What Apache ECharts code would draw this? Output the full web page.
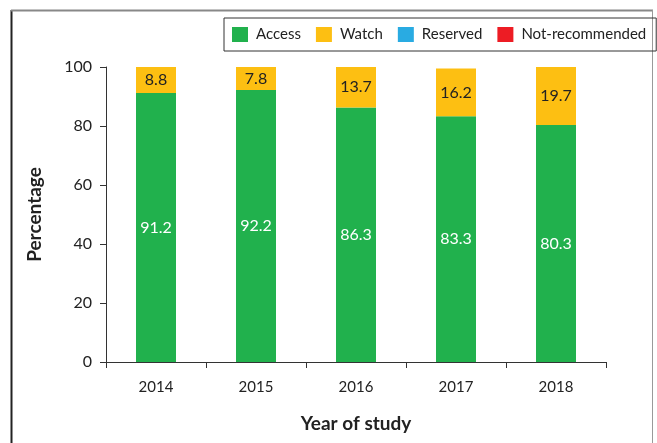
<!DOCTYPE html>
<html>
<head>
<meta charset="utf-8">
<script src="https://cdn.jsdelivr.net/npm/echarts@6/dist/echarts.min.js"></script>
<style>html,body{margin:0;padding:0;background:#fff}#c{width:657px;height:443px}</style>
</head>
<body>
<div id="c"></div>
<script>
const years = ['2014', '2015', '2016', '2017', '2018'];
const accessVals = [91.2, 92.2, 86.3, 83.3, 80.3];
const watchVals = [8.8, 7.8, 13.7, 16.2, 19.7];
const reservedVals = [0, 0, 0, 0, 0];
const notRecVals = [0, 0, 0, 0, 0];
const yTicks = [0, 20, 40, 60, 80, 100];

const FONT = 'Lato';
const chart = echarts.init(document.getElementById('c'), null, {renderer: 'canvas'});
const lbl = (color) => ({
  show: true, position: 'inside', color: color, fontFamily: FONT, fontSize: 16,
  formatter: p => p.value > 0 ? p.value.toFixed(1) : ''
});
chart.setOption({
  animation: false,
  backgroundColor: '#fff',
  textStyle: {fontFamily: FONT},
  graphic: [
    {type: 'line', shape: {x1: 11.5, y1: 10, x2: 11.5, y2: 443}, style: {stroke: '#222', lineWidth: 2}},
    {type: 'line', shape: {x1: 11, y1: 10.5, x2: 653, y2: 10.5}, style: {stroke: '#888', lineWidth: 2}},
    {type: 'line', shape: {x1: 652.5, y1: 10, x2: 652.5, y2: 443}, style: {stroke: '#999', lineWidth: 1}}
  ],
  legend: {
    left: 224, top: 18,
    padding: [9, 10, 9, 8],
    borderColor: '#333', borderWidth: 1,
    itemWidth: 16, itemHeight: 15, itemGap: 15,
    icon: 'rect',
    textStyle: {fontFamily: FONT, fontSize: 15, color: '#222', padding: [0, 0, 0, 3]},
    data: ['Access', 'Watch', 'Reserved', 'Not-recommended']
  },
  grid: {left: 106, right: 51, top: 67, bottom: 81},
  xAxis: {
    type: 'category', data: years,
    name: 'Year of study', nameLocation: 'middle', nameGap: 52,
    nameTextStyle: {fontFamily: FONT, fontSize: 19, fontWeight: 'bold', color: '#222'},
    axisLine: {lineStyle: {color: '#333', width: 1}},
    axisTick: {show: true, alignWithLabel: false, length: 6, lineStyle: {color: '#333'}},
    axisLabel: {fontFamily: FONT, fontSize: 15, color: '#222', margin: 18}
  },
  yAxis: {
    type: 'value', min: 0, max: 100, interval: 20,
    name: 'Percentage', nameLocation: 'middle', nameGap: 62, nameRotate: 90,
    nameTextStyle: {fontFamily: FONT, fontSize: 19, fontWeight: 'bold', color: '#222'},
    axisLine: {show: true, lineStyle: {color: '#333', width: 1}},
    axisTick: {show: true, length: 6, lineStyle: {color: '#333'}},
    axisLabel: {fontFamily: FONT, fontSize: 16, color: '#222', margin: 14,
      formatter: v => yTicks.includes(v) ? String(v) : ''},
    splitLine: {show: false}
  },
  series: [
    {name: 'Access', type: 'bar', stack: 's', barWidth: 40, data: accessVals,
     itemStyle: {color: '#21b14d'}, label: lbl('#fff')},
    {name: 'Watch', type: 'bar', stack: 's', barWidth: 40, data: watchVals,
     itemStyle: {color: '#fdbf12'}, label: lbl('#222')},
    {name: 'Reserved', type: 'bar', stack: 's', barWidth: 40, data: reservedVals,
     itemStyle: {color: '#29abe2'}, label: {show: false}},
    {name: 'Not-recommended', type: 'bar', stack: 's', barWidth: 40, data: notRecVals,
     itemStyle: {color: '#ed1c24'}, label: {show: false}}
  ]
});
</script>
</body>
</html>
